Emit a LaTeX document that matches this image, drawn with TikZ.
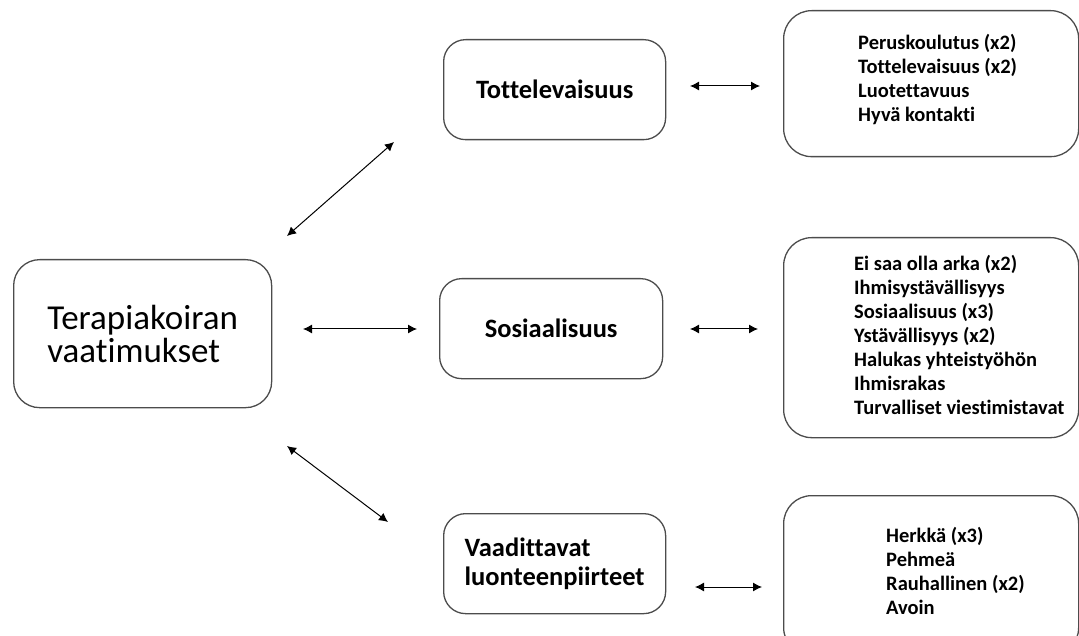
\documentclass[tikz,border=0pt]{standalone}
\usepackage{fontspec}
\setmainfont{Carlito}[Ligatures=NoCommon]
\usetikzlibrary{arrows.meta}
\begin{document}
\begin{tikzpicture}[x=1pt, y=-1pt,
    box/.style={draw=black!70, line width=1.3pt, rounded corners=22pt, anchor=north west, inner sep=0pt, align=left},
    topic/.style={box, font=\fontsize{26.5}{29}\selectfont\bfseries},
    list/.style={font=\fontsize{20.5}{24}\selectfont\bfseries, align=left, anchor=west, inner sep=0pt},
    link/.style={{Latex[length=9pt,width=9pt]}-{Latex[length=9pt,width=9pt]}, line width=1pt}
]
    \useasboundingbox (0,0) rectangle (1079,636);
    \clip (0,0) rectangle (1079,636);

    % Main box
    \node[box, rounded corners=26pt, minimum width=258pt, minimum height=148pt,
          font=\fontsize{35}{33}\selectfont] (main) at (13,259) {Terapiakoiran\\vaatimukset};

    % Middle boxes
    \node[topic, minimum width=222pt, minimum height=100pt] (tott) at (443,39) {Tottelevaisuus};
    \node[topic, minimum width=223pt, minimum height=100pt] (sos) at (439,278) {Sosiaalisuus};
    \node[topic, minimum width=222pt, minimum height=100pt] (luonne) at (443,513) {Vaadittavat\\luonteenpiirteet};

    % Right boxes
    \node[box, rounded corners=28pt, minimum width=295pt, minimum height=146pt] (tottbox) at (783,10) {};
    \node[list] (tottlist) at (858,80) {Peruskoulutus (x2)\\Tottelevaisuus (x2)\\Luotettavuus\\Hyvä kontakti};

    \node[box, rounded corners=28pt, minimum width=295pt, minimum height=200pt] (sosbox) at (783,237) {};
    \node[list] (soslist) at (854,335) {Ei saa olla arka (x2)\\Ihmisystävällisyys\\Sosiaalisuus (x3)\\Ystävällisyys (x2)\\Halukas yhteistyöhön\\Ihmisrakas\\Turvalliset viestimistavat};

    \node[box, rounded corners=28pt, minimum width=295pt, minimum height=160pt] (luonnebox) at (783,495) {};
    \node[list] (luonnelist) at (886,571) {Herkkä (x3)\\Pehmeä\\Rauhallinen (x2)\\Avoin};

    % Arrow ends
    \coordinate (a1) at (287,236);
    \coordinate (a2) at (394,142);
    \coordinate (b1) at (303,329);
    \coordinate (b2) at (417,329);
    \coordinate (c1) at (287,446);
    \coordinate (c2) at (388,522);
    \coordinate (d1) at (690,86);
    \coordinate (d2) at (760,86);
    \coordinate (e1) at (690,329);
    \coordinate (e2) at (758,329);
    \coordinate (f1) at (695,587);
    \coordinate (f2) at (762,587);

    % Arrows
    \draw[link] (a1) -- (a2);
    \draw[link] (b1) -- (b2);
    \draw[link] (c1) -- (c2);
    \draw[link] (d1) -- (d2);
    \draw[link] (e1) -- (e2);
    \draw[link] (f1) -- (f2);
\end{tikzpicture}
\end{document}
